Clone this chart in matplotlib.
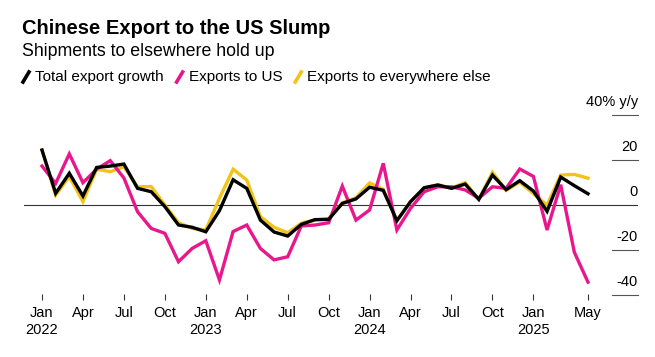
import numpy as np
import matplotlib
matplotlib.use("Agg")
import matplotlib.pyplot as plt
from matplotlib.lines import Line2D
import matplotlib.transforms as mtransforms

plt.rcParams['font.family'] = ['Liberation Sans', 'DejaVu Sans']

# monthly y/y growth, Jan 2022 .. May 2025
total = [24.4, 5.2, 14.1, 4.0, 16.7, 17.3, 18.2, 7.4, 5.9, -0.7, -8.9, -9.9, -11.9,
         -2.5, 11.2, 7.4, -6.7, -12.0, -13.8, -8.6, -6.5, -6.4, 0.7, 2.7, 7.9, 6.5,
         -7.0, 1.5, 7.7, 8.9, 7.4, 9.3, 2.5, 13.3, 6.8, 10.8, 6.2, -2.8, 12.4, 8.6, 5.0]
us = [17.3, 9.6, 22.7, 9.9, 15.9, 19.7, 12.0, -3.0, -10.4, -12.6, -25.2, -19.3, -15.9,
      -33.3, -11.8, -8.9, -19.3, -24.4, -23.0, -9.3, -8.9, -7.9, 8.4, -6.7, -2.2, 18.5,
      -11.1, -1.5, 5.9, 8.1, 8.1, 6.7, 3.0, 8.1, 7.4, 16.0, 12.7, -11.1, 9.0, -21.0, -34.3]
rest = [24.5, 4.4, 12.6, 1.5, 15.9, 14.8, 17.0, 8.1, 8.2, 0.0, -7.9, -10.4, -11.1,
        3.0, 15.9, 11.1, -5.2, -9.9, -12.3, -8.1, -6.7, -6.0, 1.0, 3.2, 9.8, 7.0,
        -6.8, 1.5, 7.5, 9.0, 7.5, 10.0, 2.5, 14.5, 6.5, 10.2, 5.0, 0.0, 13.3, 13.6, 11.9]

names = ["Total export growth", "Exports to US", "Exports to everywhere else"]
colors = ["#000000", "#e8188c", "#f2c318"]

tick_pos = [0, 3, 6, 9, 12, 15, 18, 21, 24, 27, 30, 33, 36, 40]
tick_lab = ["Jan\n2022", "Apr", "Jul", "Oct", "Jan\n2023", "Apr", "Jul", "Oct",
            "Jan\n2024", "Apr", "Jul", "Oct", "Jan\n2025", "May"]
ytick_vals = [40, 20, 0, -20, -40]
ytick_lab = ["40% y/y", "20", "0", "-20", "-40"]

W, H = 655, 357
fig = plt.figure(figsize=(W / 100, H / 100), dpi=100)

# axes box in pixels
left, right, top, bottom = 24, 638, 103.75, 300
ax = fig.add_axes([left / W, (H - bottom) / H, (right - left) / W, (bottom - top) / H])

x = np.arange(len(total))
ax.plot(x, rest, color=colors[2], lw=2.4, solid_joinstyle='miter', zorder=3)
ax.plot(x, us, color=colors[1], lw=2.4, solid_joinstyle='miter', zorder=4)
ax.plot(x, total, color=colors[0], lw=2.4, solid_joinstyle='miter', zorder=5)

ax.set_xlim(-18 / 13.65, (right - 42) / 13.65)
ax.set_ylim(-95 / 2.25, 45)
for s in ax.spines.values():
    s.set_visible(False)
ax.set_yticks([])
ax.set_xticks(tick_pos)
ax.set_xticklabels(tick_lab, fontsize=10.5)
ax.tick_params(axis='x', direction='in', length=4.5, width=0.8, color='#333333', pad=4)
for lbl in ax.get_xticklabels():
    lbl.set_linespacing(1.3)

ax.axhline(0, color='#333333', lw=0.8, zorder=2)
trans = mtransforms.blended_transform_factory(ax.transAxes, ax.transData)
for v, lab in zip(ytick_vals, ytick_lab):
    if v != 0:
        ax.plot([0.958, 1.0], [v, v], transform=trans, color='#555555', lw=0.8, clip_on=False)
    ax.annotate(lab, xy=(1.0, v), xycoords=trans, xytext=(0, 4), textcoords='offset points',
                ha='right', va='bottom', fontsize=10.5)

fig.text(22 / W, 1 - 28 / H, "Chinese Export to the US Slump", fontsize=14.5, fontweight='bold',
         va='center', ha='left')
fig.text(22 / W, 1 - 52 / H, "Shipments to elsewhere hold up", fontsize=12.8,
         va='center', ha='left')

# legend with slash markers
fig.canvas.draw()
renderer = fig.canvas.get_renderer()
xp = 23
ly = 77
for name, c in zip(names, colors):
    fig.add_artist(Line2D([xp / W, (xp + 6) / W], [1 - (ly + 5) / H, 1 - (ly - 5) / H],
                          color=c, lw=2.6, transform=fig.transFigure))
    t = fig.text((xp + 12) / W, 1 - ly / H, name, fontsize=11, va='center', ha='left')
    bb = t.get_window_extent(renderer)
    xp = bb.x1 + 13

fig.savefig("out.png", dpi=100)
